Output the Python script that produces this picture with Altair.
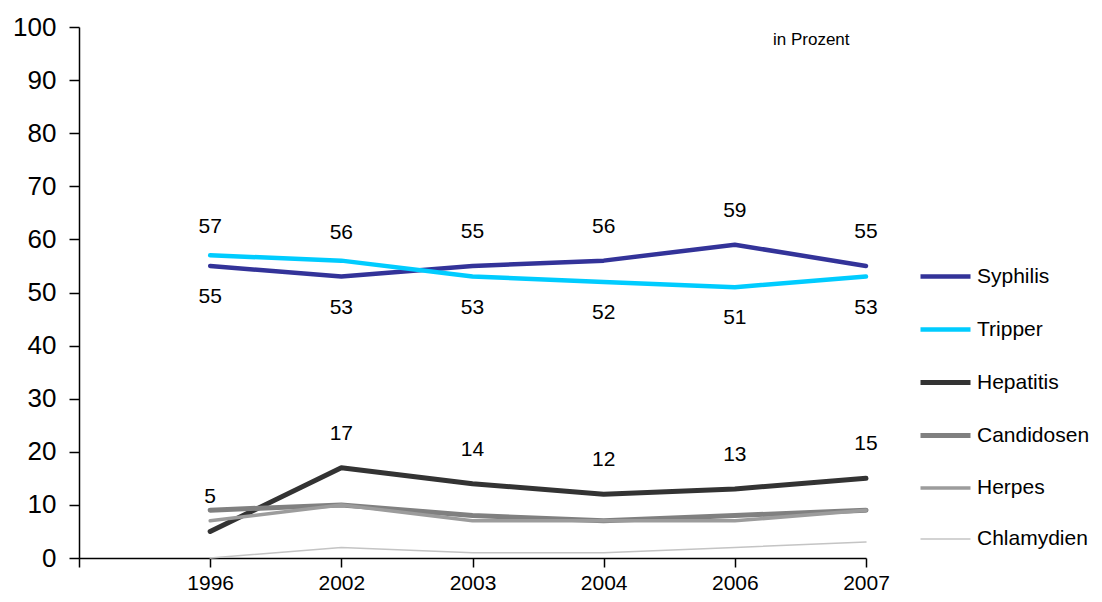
import altair as alt
import pandas as pd

years = ["1996", "2002", "2003", "2004", "2006", "2007"]
series = ["Syphilis", "Tripper", "Hepatitis", "Candidosen", "Herpes", "Chlamydien"]
syphilis = [55, 53, 55, 56, 59, 55]
tripper = [57, 56, 53, 52, 51, 53]
hepatitis = [5, 17, 14, 12, 13, 15]
candidosen = [9, 10, 8, 7, 8, 9]
herpes = [7, 10, 7, 7, 7, 9]
chlamydien = [0, 2, 1, 1, 2, 3]
colors = ["#333399", "#00CCFF", "#333333", "#808080", "#9C9C9C", "#C4C4C4"]
widths = [4.5, 4.5, 5, 5, 3.5, 1.5]

values = [syphilis, tripper, hepatitis, candidosen, herpes, chlamydien]
rows = []
for s, vals in zip(series, values):
    for i, (yr, v) in enumerate(zip(years, vals)):
        rows.append({"series": s, "idx": i + 1, "year": yr, "value": v})
df = pd.DataFrame(rows)

# label placement: higher of Syphilis/Tripper above, lower below; Hepatitis above
lab = []
for i, yr in enumerate(years):
    s, t = syphilis[i], tripper[i]
    if t > s:
        lab.append({"idx": i + 1, "value": t, "pos": "above_t"})
        lab.append({"idx": i + 1, "value": s, "pos": "below"})
    else:
        lab.append({"idx": i + 1, "value": s, "pos": "above"})
        lab.append({"idx": i + 1, "value": t, "pos": "below"})
    lab.append({"idx": i + 1, "value": hepatitis[i], "pos": "above"})
ldf = pd.DataFrame(lab)

label_expr = "datum.value == 0 ? '' : [" + ",".join("'%s'" % y for y in years) + "][datum.value - 1]"

FONT = "Liberation Sans"

x = alt.X("idx:Q", scale=alt.Scale(domain=[0, 6], nice=False),
          axis=alt.Axis(values=[0, 1, 2, 3, 4, 5, 6], labelExpr=label_expr, title=None,
                        grid=False, tickSize=9, tickColor="black", domainColor="black",
                        domainWidth=1.5, tickWidth=1.5, labelFontSize=21, labelColor="black",
                        labelFont=FONT, labelPadding=5, labelFlush=False))
y = alt.Y("value:Q", scale=alt.Scale(domain=[0, 100], nice=False),
          axis=alt.Axis(values=list(range(0, 101, 10)), title=None, grid=False, tickSize=10,
                        tickColor="black", domainColor="black", domainWidth=1.5, tickWidth=1.5,
                        labelFontSize=26, labelColor="black", labelFont=FONT,
                        labelPadding=13))

legend = alt.Legend(title=None, orient="none", legendX=839, legendY=222,
                    symbolType="stroke", symbolSize=2500,
                    labelFontSize=21, labelFont=FONT,
                    labelColor="black", rowPadding=15, labelOffset=4)

lines = alt.Chart(df).mark_line(strokeCap="round", strokeJoin="round").encode(
    x=x, y=y,
    color=alt.Color("series:N", scale=alt.Scale(domain=series, range=colors), legend=legend),
    strokeWidth=alt.StrokeWidth("series:N",
                                scale=alt.Scale(type="ordinal", domain=series, range=widths),
                                legend=legend),
    order=alt.Order("idx:Q"),
)

def text_layer(pos, dy):
    return alt.Chart(ldf).transform_filter(alt.datum.pos == pos).mark_text(
        fontSize=21, font=FONT, color="black", dy=dy, baseline="middle"
    ).encode(x="idx:Q", y="value:Q", text="value:Q")

note = alt.Chart(pd.DataFrame({"t": ["in Prozent"]})).mark_text(
    fontSize=17, font=FONT, color="black", align="left", baseline="middle"
).encode(x=alt.value(694), y=alt.value(13), text="t:N")

chart = alt.layer(
    lines,
    text_layer("above", -34),
    text_layer("above_t", -28),
    text_layer("below", 31),
    note,
).properties(
    width=787, height=531,
    background="white",
    autosize=alt.AutoSizeParams(type="none"),
    padding={"left": 79, "top": 27, "right": 236, "bottom": 44},
).configure_view(stroke=None)

chart.save("out.html", embed_options={"renderer": "svg", "actions": False})
